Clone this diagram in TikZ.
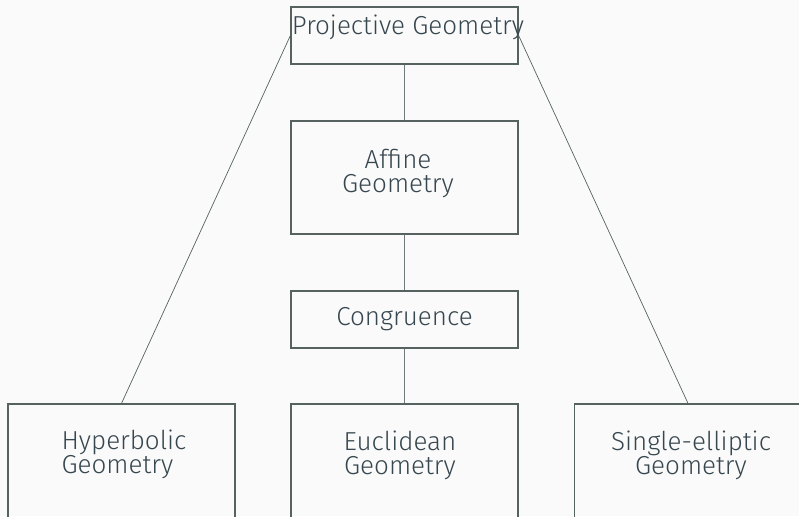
\documentclass[tikz,border=0pt]{standalone}
\usepackage{fontspec}
\setmainfont{Fira Sans}[UprightFont=* Light]
\usetikzlibrary{positioning}
\definecolor{geoborder}{HTML}{56625F}
\definecolor{geolink}{HTML}{6E7A7B}
\definecolor{geotext}{HTML}{37474F}
\definecolor{geobg}{HTML}{FAFAFA}

\begin{document}
\begin{tikzpicture}[
    x=1pt, y=-1pt,
    geobox/.style={
        draw=geoborder,
        line width=1.2pt,
        minimum width=227pt,
        inner sep=0pt
    },
    geolabel/.style={
        text=geotext,
        font=\fontsize{26}{24}\selectfont,
        align=center,
        inner sep=0pt
    },
    treelink/.style={
        geolink,
        line width=1.5pt
    },
    sidelink/.style={
        geoborder,
        line width=0.7pt
    }
]
    \fill[geobg] (0,0) rectangle (799,516);
    \useasboundingbox (0,0) rectangle (799,516);
    \clip (0,0) rectangle (799,516);

    % boxes
    \node[geobox, minimum height=57pt] (projective) at (404.5,35.5) {};
    \node[geobox, minimum height=113pt] (affine) at (404.5,177.5) {};
    \node[geobox, minimum height=57pt] (congruence) at (404.5,319.5) {};
    \node[geobox, minimum height=130pt] (hyperbolic) at (121.5,469) {};
    \node[geobox, minimum height=130pt] (euclidean) at (404.5,469) {};
    \node[geobox, minimum height=130pt] (elliptic) at (688,469) {};

    % labels
    \node[geolabel, anchor=base] (projectivetext) at (408,35) {Projective Geometry};
    \node[geolabel] (affinetext) at (398,173) {Affine\\Geometry};
    \node[geolabel, anchor=base] (congruencetext) at (404.5,325) {Congruence};
    \node[geolabel, align=left] (hyperbolictext) at (124,454) {Hyperbolic\\Geometry};
    \node[geolabel] (euclideantext) at (400,455) {Euclidean\\Geometry};
    \node[geolabel] (elliptictext) at (691,455) {Single-elliptic\\Geometry};

    % connectors
    \draw[treelink] (projective) -- (affine);
    \draw[treelink] (affine) -- (congruence);
    \draw[treelink] (congruence) -- (euclidean);
    \draw[sidelink] (projective.west) -- (hyperbolic.north);
    \draw[sidelink] (projective.east) -- (elliptic.north);
\end{tikzpicture}
\end{document}
